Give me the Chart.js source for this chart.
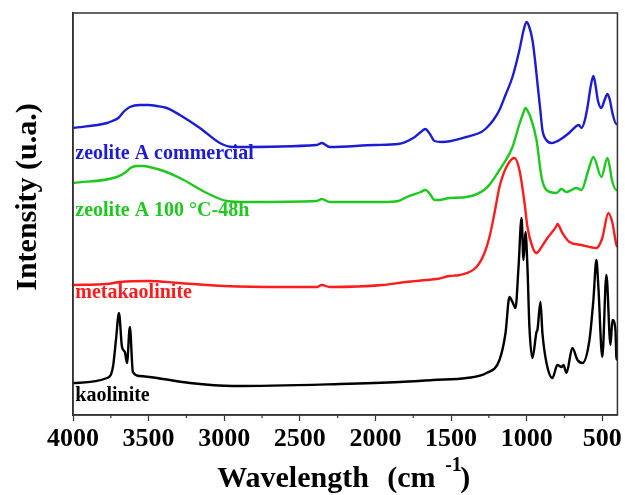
<!DOCTYPE html>
<html>
<head>
<meta charset="utf-8">
<script src="https://cdn.jsdelivr.net/npm/chart.js@4/dist/chart.umd.min.js"></script>
<style>
  html, body { margin: 0; padding: 0; background: #fff; }
  #wrap { width: 625px; height: 495px; }
</style>
</head>
<body>
<div id="wrap"><canvas id="ftirChart"></canvas></div>
<script>
// wavenumber (cm-1) / intensity (a.u., offset traces)
const commercialWn = [4000, 3775, 3740, 3700, 3660, 3624, 3560, 3500, 3445, 3380, 3293, 3161, 3029, 2943, 2388, 2355, 2303, 2000, 1850, 1750, 1700, 1670, 1640, 1610, 1560, 1500, 1400, 1300, 1266, 1220, 1180, 1140, 1094, 1048, 1020, 1001, 985, 962, 945, 929, 910, 896, 870, 836, 810, 783, 720, 671, 655, 638, 615, 598, 575, 559, 545, 530, 506, 485, 466, 450, 433, 407, 400];
const commercialI  = [287, 292, 294, 297, 304, 308, 310, 310, 309, 307, 300, 287, 272, 268, 270, 272, 268, 270, 271, 277, 283, 286, 281, 274, 273, 274, 278, 283, 287, 295, 305, 320, 338, 365, 385, 393, 389, 375, 355, 332, 305, 285, 275, 272, 273, 275, 282, 289, 290, 287, 295, 308, 330, 339, 330, 315, 307, 315, 321, 315, 302, 291, 291];

const synthWn = [4000, 3710, 3650, 3620, 3580, 3530, 3494, 3400, 3293, 3115, 2983, 2851, 2388, 2355, 2303, 1952, 1850, 1794, 1700, 1670, 1640, 1609, 1580, 1510, 1398, 1266, 1180, 1094, 1050, 1020, 1008, 990, 975, 935, 902, 869, 803, 770, 737, 671, 638, 592, 559, 506, 466, 433, 407, 400];
const synthI  = [232, 238, 243, 247, 249, 249, 248, 244, 237, 222, 214, 213, 214, 216, 213, 213, 214, 218, 223, 225, 221, 215, 215, 217, 218, 227, 245, 268, 290, 303, 307, 303, 298, 275, 238, 225, 222, 226, 223, 227, 225, 245, 258, 238, 257, 233, 225, 225];

const metaWn = [4000, 3775, 3690, 3494, 3300, 3000, 2600, 2388, 2355, 2303, 1952, 1800, 1662, 1596, 1510, 1444, 1332, 1279, 1246, 1213, 1180, 1134, 1081, 1048, 1015, 995, 962, 935, 902, 863, 803, 797, 764, 717, 638, 539, 500, 460, 433, 407, 400];
const metaI  = [130, 131, 133, 134, 132, 129, 128, 128, 130, 128, 130, 133, 135, 136, 139, 140, 148, 162, 178, 202, 228, 248, 257, 245, 213, 188, 168, 162, 168, 177, 189, 191, 182, 173, 170, 167, 177, 202, 192, 170, 168];

const kaoWn = [4000, 3775, 3736, 3716, 3696, 3676, 3657, 3643, 3624, 3604, 3560, 3445, 3227, 2943, 2236, 1840, 1620, 1398, 1266, 1180, 1140, 1114, 1094, 1074, 1054, 1034, 1021, 1008, 995, 982, 962, 935, 929, 909, 896, 869, 830, 797, 770, 757, 737, 698, 664, 631, 585, 559, 539, 526, 500, 473, 446, 433, 413, 407, 400];
const kaoI  = [32, 37, 48, 75, 102, 68, 63, 52, 88, 43, 39, 37, 32, 29, 31, 33, 35, 37, 42, 55, 82, 118, 113, 107, 148, 197, 155, 183, 148, 88, 57, 83, 85, 113, 82, 52, 37, 50, 48, 50, 42, 67, 55, 52, 75, 115, 155, 128, 58, 140, 70, 95, 85, 58, 55];

const seriesNames  = ['zeolite A commercial', 'zeolite A 100 °C-48h', 'metakaolinite', 'kaolinite'];
const seriesColors = ['#1c1cd4', '#1ec81e', '#ff1c1c', '#000000'];
const labelY = [256, 199, 117, 14];

const xTicks = [4000, 3500, 3000, 2500, 2000, 1500, 1000, 500];

const pts = (wn, inten) => wn.map((w, i) => ({ x: w, y: inten[i] }));

const SERIF = '"Liberation Serif", "Times New Roman", serif';

const boxAndLabels = {
    id: 'boxAndLabels',
    afterDraw(chart) {
        const ctx = chart.ctx;
        const a = chart.chartArea;
        const xs = chart.scales.x;
        const ys = chart.scales.y;
        ctx.save();
        // frame
        ctx.strokeStyle = '#333';
        ctx.lineWidth = 1.5;
        ctx.strokeRect(a.left, a.top, a.right - a.left, a.bottom - a.top);
        // minor ticks
        ctx.lineWidth = 1.2;
        xs.ticks.forEach(t => {
            if (t.value % 500 !== 0) {
                const px = xs.getPixelForValue(t.value);
                ctx.beginPath();
                ctx.moveTo(px, a.bottom);
                ctx.lineTo(px, a.bottom + 3);
                ctx.stroke();
            }
        });
        // curve labels
        ctx.font = 'bold 20px ' + SERIF;
        ctx.textBaseline = 'alphabetic';
        ctx.textAlign = 'left';
        seriesNames.forEach((name, i) => {
            ctx.fillStyle = seriesColors[i];
            ctx.fillText(name, xs.getPixelForValue(3985), ys.getPixelForValue(labelY[i]));
        });
        // y title
        ctx.fillStyle = '#000';
        ctx.font = 'bold 30px ' + SERIF;
        ctx.save();
        ctx.translate(28, 197);
        ctx.rotate(-Math.PI / 2);
        ctx.textAlign = 'center';
        ctx.textBaseline = 'middle';
        ctx.fillText('Intensity (u.a.)', 0, 0);
        ctx.restore();

        // x title with superscript
        const cx = (a.left + a.right) / 2;
        const base = 487;
        ctx.textAlign = 'left';
        ctx.textBaseline = 'alphabetic';
        ctx.font = 'bold 30px ' + SERIF;
        ctx.fillText('Wavelength', cx - 128, base);
        ctx.fillText('(cm', cx + 42, base);
        ctx.fillText(')', cx + 115, base);
        ctx.font = 'bold 20px ' + SERIF;
        ctx.fillText('-1', cx + 100, base - 16);
        ctx.restore();
    }
};

const datasets = [
    pts(commercialWn, commercialI),
    pts(synthWn, synthI),
    pts(metaWn, metaI),
    pts(kaoWn, kaoI)
].map((d, i) => ({
    label: seriesNames[i],
    data: d,
    borderColor: seriesColors[i],
    borderWidth: 2.4,
    pointRadius: 0,
    fill: false,
    cubicInterpolationMode: 'monotone'
}));

new Chart(document.getElementById('ftirChart'), {
    type: 'line',
    data: { datasets: datasets },
    plugins: [boxAndLabels],
    options: {
        responsive: true,
        maintainAspectRatio: false,
        animation: false,
        layout: { padding: { top: 13, right: 7, left: 0, bottom: 0 } },
        plugins: {
            legend: { display: false },
            tooltip: { enabled: false }
        },
        scales: {
            x: {
                type: 'linear',
                reverse: true,
                min: 400,
                max: 4000,
                afterFit: s => { s.height = 80; },
                grid: {
                    drawOnChartArea: false,
                    tickLength: 6,
                    tickWidth: 1.2,
                    tickColor: c => (c.tick && c.tick.value % 500 === 0) ? '#333' : 'rgba(0,0,0,0)'
                },
                border: { display: true, color: '#333', width: 1.5 },
                ticks: {
                    stepSize: 250,
                    includeBounds: false,
                    autoSkip: false,
                    maxRotation: 0,
                    padding: 3,
                    color: '#000',
                    font: { family: SERIF, size: 26, weight: 'bold' },
                    callback: v => xTicks.includes(v) ? String(v) : ''
                }
            },
            y: {
                min: 0,
                max: 402,
                afterFit: s => { s.width = 73; },
                grid: { display: false },
                border: { display: true, color: '#333', width: 1.5 },
                ticks: { display: false }
            }
        }
    }
});
</script>
</body>
</html>
